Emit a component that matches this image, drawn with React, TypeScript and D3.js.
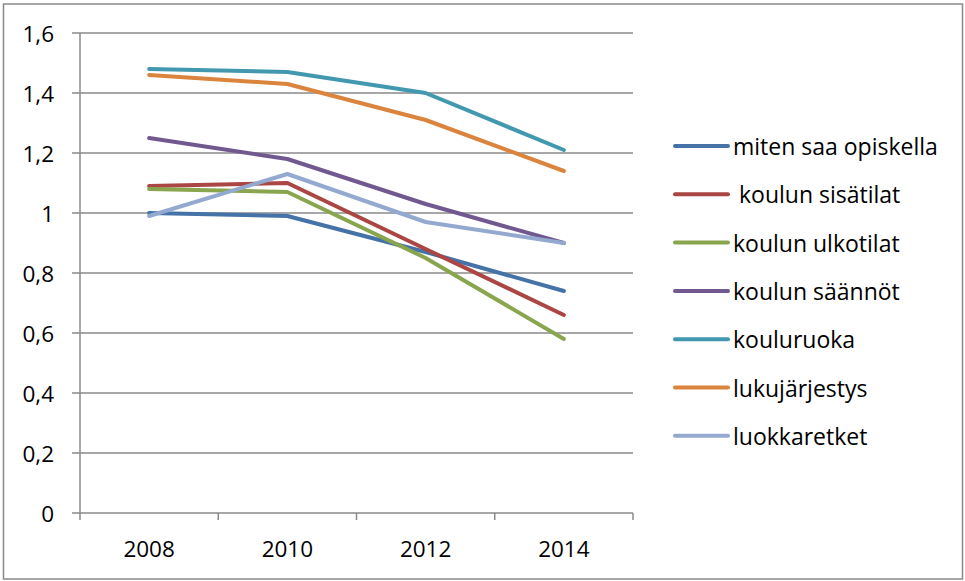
import React from "react";
import * as d3 from "d3";

const years = ["2008", "2010", "2012", "2014"];
const seriesNames = [
  "miten saa opiskella",
  " koulun sisätilat",
  "koulun ulkotilat",
  "koulun säännöt",
  "kouluruoka",
  "lukujärjestys",
  "luokkaretket",
];
const mitenSaaOpiskella = [1.0, 0.99, 0.87, 0.74];
const koulunSisatilat = [1.09, 1.1, 0.88, 0.66];
const koulunUlkotilat = [1.08, 1.07, 0.85, 0.58];
const koulunSaannot = [1.25, 1.18, 1.03, 0.9];
const kouluruoka = [1.48, 1.47, 1.4, 1.21];
const lukujarjestys = [1.46, 1.43, 1.31, 1.14];
const luokkaretket = [0.99, 1.13, 0.97, 0.9];
const seriesValues = [
  mitenSaaOpiskella,
  koulunSisatilat,
  koulunUlkotilat,
  koulunSaannot,
  kouluruoka,
  lukujarjestys,
  luokkaretket,
];
const colors = ["#4572A7", "#AA4643", "#89A54E", "#71588F", "#4198AF", "#DB843D", "#93A9CF"];
const yTicks = [0, 0.2, 0.4, 0.6, 0.8, 1, 1.2, 1.4, 1.6];

const W = 965;
const H = 581;
const font = "'Open Sans', sans-serif";

export default function App() {
  const x = d3.scaleBand<string>().domain(years).range([80, 633]);
  const y = d3.scaleLinear().domain([0, 1.6]).range([513, 33]);
  const line = d3
    .line<number>()
    .x((_, i) => (x(years[i]) as number) + x.bandwidth() / 2)
    .y((d) => y(d));
  const fmt = (v: number) => (v === 0 || v === 1 ? String(v) : v.toFixed(1).replace(".", ","));
  const gridColor = "#8a8a8a";
  const bandEdges = years.map((yr) => x(yr) as number).concat([633]);

  return (
    <div style={{ position: "absolute", left: 0, top: 0 }}>
      <svg width={W} height={H} style={{ display: "block" }}>
        <rect x={0} y={0} width={W} height={H} fill="#fff" />
        <rect x={3.5} y={4} width={959} height={575} fill="none" stroke={gridColor} strokeWidth={1.5} />
        {yTicks.map((t) => (
          <g key={t}>
            <line x1={72} x2={633} y1={y(t)} y2={y(t)} stroke={gridColor} strokeWidth={1.5} />
            <text
              x={54}
              y={y(t)}
              textAnchor="end"
              dominantBaseline="central"
              fontFamily={font}
              fontSize={22.5}
              fill="#000"
            >
              {fmt(t)}
            </text>
          </g>
        ))}
        <line x1={80} x2={80} y1={33} y2={513} stroke={gridColor} strokeWidth={1.5} />
        {bandEdges.map((bx, i) => (
          <line key={i} x1={bx} x2={bx} y1={513} y2={520} stroke={gridColor} strokeWidth={1.5} />
        ))}
        {years.map((yr) => (
          <text
            key={yr}
            x={(x(yr) as number) + x.bandwidth() / 2}
            y={548}
            textAnchor="middle"
            dominantBaseline="central"
            fontFamily={font}
            fontSize={22.5}
            fill="#000"
          >
            {yr}
          </text>
        ))}
        {seriesValues.map((vals, i) => (
          <path
            key={i}
            d={line(vals) || ""}
            fill="none"
            stroke={colors[i]}
            strokeWidth={4}
            strokeLinecap="round"
            strokeLinejoin="round"
          />
        ))}
        {seriesNames.map((name, i) => {
          const ly = 146 + i * 48.3;
          return (
            <g key={i}>
              <line x1={675} x2={728} y1={ly} y2={ly} stroke={colors[i]} strokeWidth={4} strokeLinecap="round" />
              <text
                x={733}
                y={ly}
                dominantBaseline="central"
                fontFamily={font}
                fontSize={23}
                fill="#000"
                style={{ whiteSpace: "pre" }}
              >
                {name}
              </text>
            </g>
          );
        })}
      </svg>
    </div>
  );
}
